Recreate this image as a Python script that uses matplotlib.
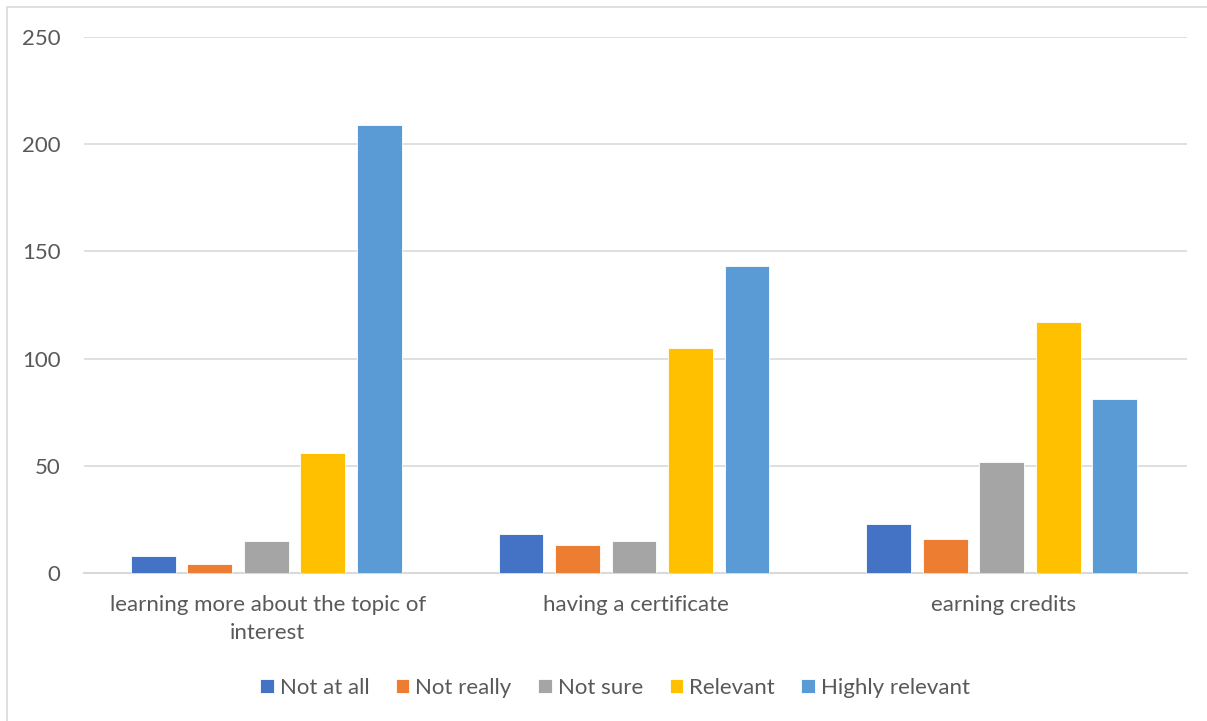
import matplotlib.pyplot as plt
import numpy as np
from matplotlib.patches import Rectangle

plt.rcParams["font.family"] = ["Lato", "DejaVu Sans"]

categories = ["learning more about the topic of\ninterest", "having a certificate", "earning credits"]
series = ["Not at all", "Not really", "Not sure", "Relevant", "Highly relevant"]
colors = ["#4472C4", "#ED7D31", "#A5A5A5", "#FFC000", "#5B9BD5"]
values = {
    "Not at all": [8, 18, 23],
    "Not really": [4, 13, 16],
    "Not sure": [15, 15, 52],
    "Relevant": [56, 105, 117],
    "Highly relevant": [209, 143, 81],
}

W, H = 1207, 721
fig = plt.figure(figsize=(W / 100, H / 100), dpi=100)
ax = fig.add_axes([84 / W, 1 - 573 / H, (1187 - 84) / W, (573 - 37) / H])

# chart area border
fig.patches.append(Rectangle((7 / W, -0.01), 1.02, 1 - 7 / H + 0.01, transform=fig.transFigure,
                             fill=False, edgecolor="#D9D9D9", linewidth=1.2))

x = np.arange(len(categories))
slot = 0.1537
bw = 0.122
for i, name in enumerate(series):
    ax.bar(x - 0.004 + (i - 2) * slot, values[name], width=bw, color=colors[i],
           edgecolor="white", linewidth=0.6, label=name, zorder=3)

ax.set_xlim(-0.5, len(categories) - 0.5)
ax.set_ylim(0, 250)
ax.set_yticks(range(0, 251, 50))
ax.grid(axis="y", color="#D9D9D9", linewidth=1.2, zorder=0)
for s in ["top", "right", "left"]:
    ax.spines[s].set_visible(False)
ax.spines["bottom"].set_color("#D9D9D9")
ax.spines["bottom"].set_linewidth(1.5)
ax.tick_params(length=0, colors="#595959", labelsize=16)
ax.tick_params(axis="y", pad=17)
ax.tick_params(axis="x", pad=16)
ax.set_xticks(x)
ax.set_xticklabels(categories, linespacing=1.5)

fig.legend(loc="center", bbox_to_anchor=(615 / W, 1 - 688 / H), ncol=5, frameon=False,
           fontsize=16, labelcolor="#595959", handlelength=0.6, handleheight=0.6,
           handletextpad=0.27, columnspacing=1.2)

fig.savefig("out.png", dpi=100)
